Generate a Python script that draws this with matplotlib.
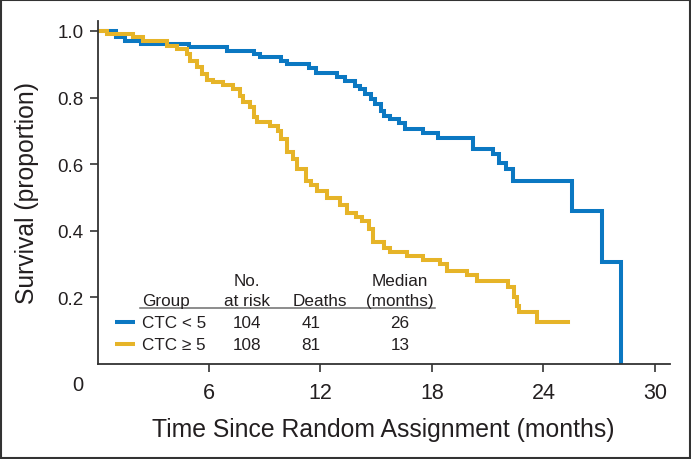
#!/usr/bin/env python3
"""Kaplan-Meier style survival curves by CTC group."""
import matplotlib
matplotlib.use("Agg")
import matplotlib.pyplot as plt
from matplotlib.patches import Rectangle

# step data: time of each drop (months) and survival after it
low_times = [1.0, 1.5, 2.35, 4.9, 6.95, 8.4, 8.75, 9.85, 10.2, 11.4, 11.75, 12.9, 13.3,
             13.85, 14.1, 14.4, 14.7, 14.95, 15.25, 15.4, 15.75, 16.2, 16.55, 17.5, 18.3,
             20.2, 21.3, 21.6, 22.0, 22.35, 25.55, 27.15, 28.15]
low_surv = [0.981, 0.971, 0.961, 0.951, 0.941, 0.931, 0.921, 0.911, 0.901, 0.888, 0.873,
            0.861, 0.851, 0.836, 0.826, 0.811, 0.796, 0.781, 0.761, 0.746, 0.736, 0.723,
            0.706, 0.694, 0.680, 0.646, 0.631, 0.605, 0.586, 0.550, 0.458, 0.305, 0.0]
low_end = 28.15

high_times = [0.5, 1.9, 2.45, 3.75, 4.3, 4.8, 5.0, 5.35, 5.65, 5.9, 6.2, 6.75, 7.3, 7.65,
              7.85, 8.2, 8.4, 8.6, 9.3, 9.7, 9.85, 10.2, 10.5, 10.75, 11.2, 11.5, 11.8,
              12.35, 13.05, 13.45, 13.9, 14.25, 14.6, 14.85, 15.4, 15.75, 16.65, 17.5,
              18.45, 18.8, 19.9, 20.4, 22.1, 22.4, 22.6, 22.7, 23.65]
high_surv = [0.991, 0.981, 0.971, 0.956, 0.946, 0.931, 0.911, 0.891, 0.871, 0.854, 0.846,
             0.838, 0.826, 0.806, 0.788, 0.771, 0.741, 0.728, 0.716, 0.701, 0.676, 0.636,
             0.616, 0.586, 0.549, 0.538, 0.521, 0.497, 0.476, 0.453, 0.441, 0.430, 0.405,
             0.365, 0.347, 0.335, 0.325, 0.313, 0.300, 0.280, 0.267, 0.250, 0.230, 0.200,
             0.175, 0.155, 0.127]
high_end = 25.3

groups = ["CTC < 5", "CTC \u2265 5"]
at_risk = [104, 108]
deaths = [41, 81]
medians = [26, 13]

x_ticks = [6, 12, 18, 24, 30]
y_ticks = [0.2, 0.4, 0.6, 0.8, 1.0]

BLUE = "#0B78C2"
YELLOW = "#E6B428"
INK = "#231f20"

plt.rcParams["font.family"] = ["Liberation Sans", "DejaVu Sans"]

fig = plt.figure(figsize=(6.91, 4.60), dpi=100)
ax = fig.add_axes([97.5 / 691, 95 / 460, 572.5 / 691, 343 / 460])

for times, surv, end, color in [(low_times, low_surv, low_end, BLUE),
                                (high_times, high_surv, high_end, YELLOW)]:
    xs = [0.0] + times + [end]
    ys = [1.0] + surv + [surv[-1]]
    ax.step(xs, ys, where="post", color=color, linewidth=2.9, solid_joinstyle="miter")

ax.set_xlim(0, 30.81)
ax.set_ylim(0, 1.03)
ax.set_xticks(x_ticks)
ax.set_yticks(y_ticks)
ax.set_xticklabels([str(t) for t in x_ticks], fontsize=15.5, color=INK)
ax.set_yticklabels([f"{t:.1f}" for t in y_ticks], fontsize=13.5, color=INK)
ax.tick_params(axis="x", direction="out", length=6, width=1.2, color="#333333", pad=7)
ax.tick_params(axis="y", direction="out", length=6, width=1.2, color="#333333", pad=4)
for side in ("top", "right"):
    ax.spines[side].set_visible(False)
for side in ("left", "bottom"):
    ax.spines[side].set_color("#333333")
    ax.spines[side].set_linewidth(1.3)
ax.text(-0.035, -0.06, "0", transform=ax.transAxes, ha="center", va="center",
        fontsize=14.5, color=INK)

ax.set_xlabel("Time Since Random Assignment (months)", fontsize=17.8,
              color=INK, labelpad=10)
ax.set_ylabel("Survival (proportion)", fontsize=17.8, color=INK, labelpad=13)

# summary table inside the plot
fs = 12.3
ax.text(8.05, 0.251, "No.", ha="center", va="center", fontsize=fs, color=INK)
ax.text(16.28, 0.251, "Median", ha="center", va="center", fontsize=fs, color=INK)
ax.text(2.39, 0.191, "Group", ha="left", va="center", fontsize=fs, color=INK)
ax.text(8.05, 0.191, "at risk", ha="center", va="center", fontsize=fs, color=INK)
ax.text(11.95, 0.191, "Deaths", ha="center", va="center", fontsize=fs, color=INK)
ax.text(16.28, 0.191, "(months)", ha="center", va="center", fontsize=fs, color=INK)
ax.plot([2.29, 18.17], [0.169, 0.169], color="#6d6d6d", linewidth=1.1)

row_y = [0.126, 0.060]
for y, name, n, d, med, color in zip(row_y, groups, at_risk, deaths, medians, [BLUE, YELLOW]):
    ax.plot([0.94, 2.02], [y, y], color=color, linewidth=2.9, solid_capstyle="butt")
    ax.text(2.39, y, name, ha="left", va="center", fontsize=fs, color=INK)
    ax.text(8.05, y, str(n), ha="center", va="center", fontsize=fs, color=INK)
    ax.text(11.5, y, str(d), ha="center", va="center", fontsize=fs, color=INK)
    ax.text(16.28, y, str(med), ha="center", va="center", fontsize=fs, color=INK)

fig.patches.append(Rectangle((0.0015, 0.002), 0.997, 0.996, transform=fig.transFigure,
                             fill=False, edgecolor="#333333", linewidth=1.5))

fig.savefig("out.png", dpi=100)
